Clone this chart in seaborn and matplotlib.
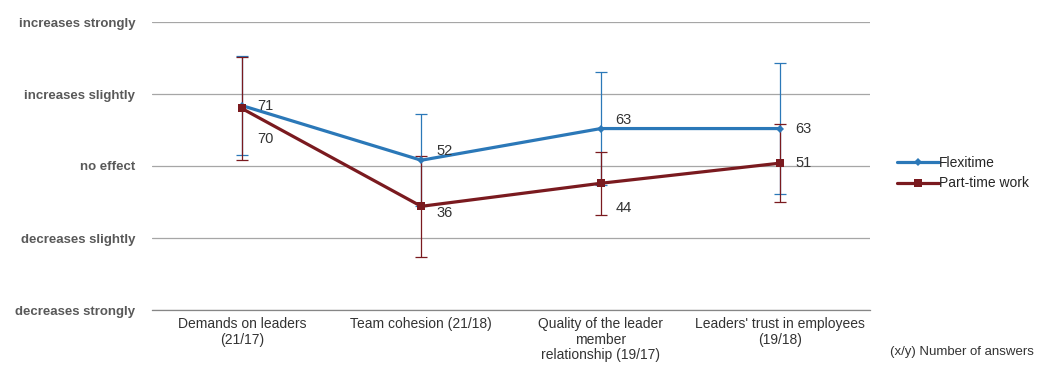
import numpy as np
import pandas as pd
import matplotlib
matplotlib.use("Agg")
import matplotlib.pyplot as plt
import seaborn as sns

categories = ["Demands on leaders\n(21/17)", "Team cohesion (21/18)",
              "Quality of the leader\nmember\nrelationship (19/17)",
              "Leaders' trust in employees\n(19/18)"]
flexitime = [71, 52, 63, 63]
parttime = [70, 36, 44, 51]
flex_err = [17.3, 16, 19.5, 22.7]
part_err = [18, 17.5, 11, 13.5]
ytick_values = [0, 25, 50, 75, 100]
ytick_labels = ["decreases strongly", "decreases slightly", "no effect",
                "increases slightly", "increases strongly"]
series_names = ["Flexitime", "Part-time work"]
note = "(x/y) Number of answers"

# styles
c_flex = "#2B78B8"
c_part = "#7A1A1F"
flex_offsets = [(15, 0), (15, 9), (15, 9), (15, 0)]
part_offsets = [(15, -31), (15, -7), (15, -25), (15, 0)]

sns.set_theme(style="white")
plt.rcParams["font.family"] = ["Liberation Sans", "DejaVu Sans"]

pos = np.arange(len(categories))
df = pd.DataFrame({
    "pos": np.concatenate([pos, pos]),
    "value": flexitime + parttime,
    "series": [series_names[0]] * len(pos) + [series_names[1]] * len(pos),
})

fig = plt.figure(figsize=(10.41, 3.70), dpi=100)
ax = fig.add_axes([152 / 1041, 1 - 310 / 370, (870 - 152) / 1041, (310 - 22) / 370])

ax.errorbar(pos, flexitime, yerr=flex_err, fmt="none", ecolor=c_flex,
            elinewidth=0.9, capsize=4.5, capthick=0.9, zorder=2)
ax.errorbar(pos, parttime, yerr=part_err, fmt="none", ecolor=c_part,
            elinewidth=0.9, capsize=4.5, capthick=0.9, zorder=2)

sns.lineplot(data=df, x="pos", y="value", hue="series", style="series",
             palette={series_names[0]: c_flex, series_names[1]: c_part},
             markers={series_names[0]: "D", series_names[1]: "s"},
             dashes=False, linewidth=2.3, markersize=5.5, markeredgewidth=0,
             ax=ax, zorder=3)
for ln in ax.lines:
    if ln.get_marker() == "D":
        ln.set_markersize(4)

for i, v in enumerate(flexitime):
    ax.annotate(str(v), (pos[i], v), xytext=flex_offsets[i], textcoords="offset pixels",
                ha="left", va="center", fontsize=10.5, color="#333333")
for i, v in enumerate(parttime):
    ax.annotate(str(v), (pos[i], v), xytext=part_offsets[i], textcoords="offset pixels",
                ha="left", va="center", fontsize=10.5, color="#333333")

ax.set_xlim(-0.5, len(categories) - 0.5)
ax.set_ylim(0, 100)
ax.set_yticks(ytick_values)
ax.set_yticklabels(ytick_labels, fontsize=9.5, fontweight="bold", color="#595959")
ax.set_xticks(pos)
ax.set_xticklabels(categories, fontsize=10, color="#333333", linespacing=1.15)
ax.set_xticks(np.arange(len(categories) + 1) - 0.5, minor=True)
ax.tick_params(axis="x", which="major", length=0, pad=5)
ax.tick_params(axis="x", which="minor", length=5, color="#868686", width=0.8, direction="out")
ax.tick_params(axis="y", length=0, pad=12)
for lab in ax.get_yticklabels():
    lab.set_ha("right")
ax.set_xlabel("")
ax.set_ylabel("")
ax.yaxis.grid(True, color="#A6A6A6", linewidth=0.9)
ax.set_axisbelow(True)
for s in ["top", "right", "left"]:
    ax.spines[s].set_visible(False)
ax.spines["bottom"].set_color("#868686")
ax.spines["bottom"].set_linewidth(0.9)

handles, labels = ax.get_legend_handles_labels()
ax.get_legend().remove()
fig.legend(handles, labels, loc="center left", bbox_to_anchor=(897 / 1041, 1 - 173 / 370),
           frameon=False, fontsize=10, handlelength=3.0, handletextpad=0.05,
           labelspacing=0.5, borderpad=0, borderaxespad=0)

fig.text(890 / 1041, 1 - 352 / 370, note, fontsize=9.5, color="#333333", ha="left", va="center")

fig.savefig("out.png", dpi=100)
